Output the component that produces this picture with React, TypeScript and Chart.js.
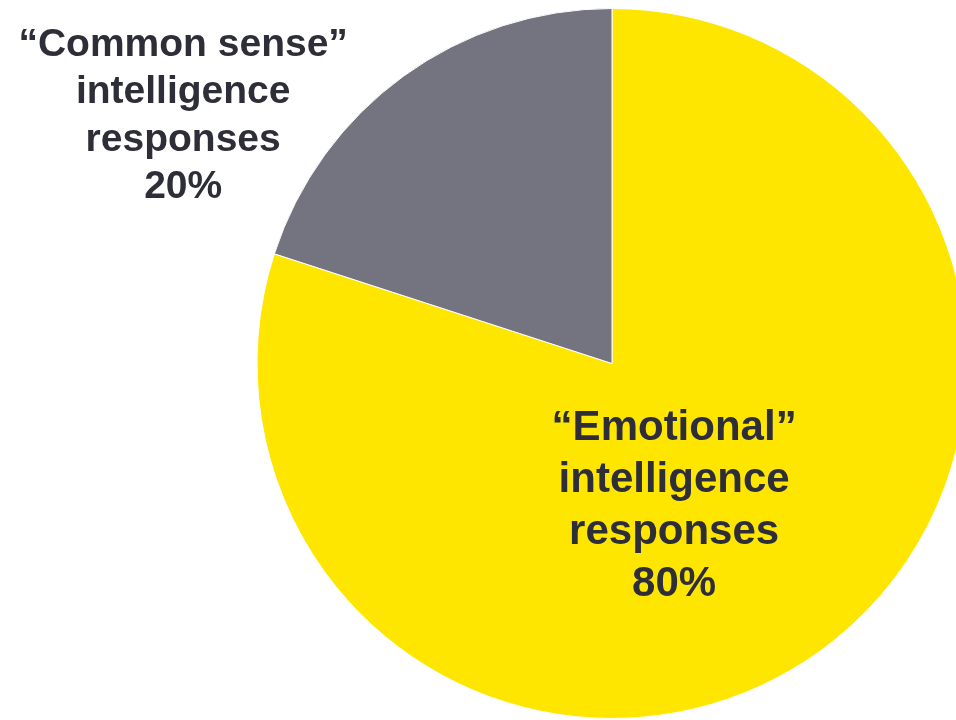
import React, { useEffect, useRef } from "react";
import { Chart, registerables } from "chart.js";

Chart.register(...registerables);

const categories = ["“Emotional” intelligence responses", "“Common sense” intelligence responses"];
const values = [80, 20];
const colors = ["#FFE600", "#747480"];
const labelLines = [
  ["“Emotional”", "intelligence", "responses", "80%"],
  ["“Common sense”", "intelligence", "responses", "20%"],
];

const labelPlugin = {
  id: "sliceLabels",
  afterDraw(chart: any) {
    const ctx = chart.ctx;
    const arc = chart.getDatasetMeta(0).data[0];
    if (!arc) return;
    const cx = arc.x;
    const cy = arc.y;
    const r = arc.outerRadius;
    ctx.save();
    ctx.fillStyle = "#2E2E38";
    ctx.textAlign = "center";
    ctx.textBaseline = "alphabetic";
    // Emotional label (inside yellow slice)
    ctx.font = "bold 42px 'Liberation Sans', Arial, sans-serif";
    const ex = cx + r * 0.175;
    const ey0 = cy + r * 0.215;
    labelLines[0].forEach((t, i) => ctx.fillText(t, ex, ey0 + i * 52));
    // Common sense label (outside, top-left)
    ctx.font = "bold 39px 'Liberation Sans', Arial, sans-serif";
    const gx = cx - r * 1.208;
    const gy0 = cy - r * 0.867;
    labelLines[1].forEach((t, i) => ctx.fillText(t, gx, gy0 + i * 47.5));
    ctx.restore();
  },
};

export default function App() {
  const ref = useRef<HTMLCanvasElement>(null);
  useEffect(() => {
    if (!ref.current) return;
    const chart = new Chart(ref.current, {
      type: "pie",
      data: {
        labels: categories,
        datasets: [
          {
            data: values,
            backgroundColor: colors,
            borderColor: "#FFFFFF",
            borderWidth: 1,
          },
        ],
      },
      options: {
        responsive: false,
        animation: false,
        layout: { padding: 0 },
        plugins: {
          legend: { display: false },
          tooltip: { enabled: false },
        },
      },
      plugins: [labelPlugin],
    });
    return () => chart.destroy();
  }, []);
  return (
    <div
      style={{
        position: "absolute",
        left: 0,
        top: 0,
        width: 956,
        height: 720,
        overflow: "hidden",
        background: "#FFFFFF",
      }}
    >
      <canvas
        ref={ref}
        width={1224}
        height={711}
        style={{ position: "absolute", left: 0, top: 8, width: 1224, height: 711 }}
      />
    </div>
  );
}
